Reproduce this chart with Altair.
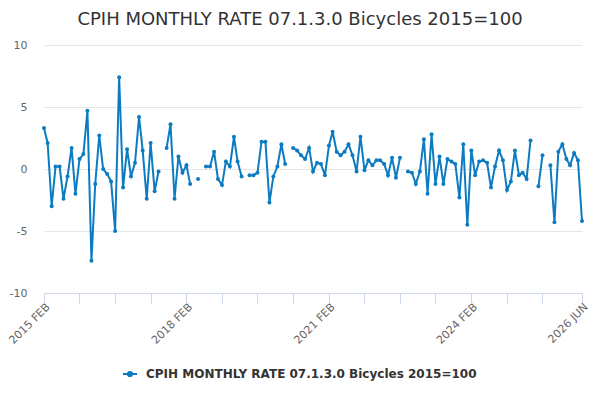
import altair as alt

FONT = "DejaVu Sans"
SERIES = "CPIH MONTHLY RATE 07.1.3.0 Bicycles 2015=100"

v2015 = [3.3, 2.1, -3.0, 0.2, 0.2, -2.4, -0.6, 1.7, -2.0, 0.8, 1.2]  # Feb-Dec
v2016 = [4.7, -7.4, -1.2, 2.7, 0.0, -0.4, -1.0, -5.0, 7.4, -1.5, 1.6, -0.6]
v2017 = [0.5, 4.2, 1.5, -2.4, 2.1, -1.8, -0.2, None, 1.7, 3.6, -2.4, 1.0]
v2018 = [-0.3, 0.3, -1.2, None, -0.8, None, 0.2, 0.2, 1.4, -0.8, -1.3, 0.6]
v2019 = [0.2, 2.6, 0.6, -0.6, None, -0.5, -0.5, -0.3, 2.2, 2.2, -2.7, -0.6]
v2020 = [0.2, 2.0, 0.4, None, 1.7, 1.5, 1.1, 0.8, 1.7, -0.2, 0.5, 0.4]
v2021 = [-0.5, 1.9, 3.0, 1.4, 1.1, 1.4, 2.0, 1.1, -0.2, 2.6, -0.1, 0.7]
v2022 = [0.3, 0.7, 0.7, 0.4, -0.5, 0.9, -0.7, 0.9, None, -0.2, -0.3, -1.2]
v2023 = [-0.2, 2.4, -2.0, 2.8, -1.2, 1.0, -1.2, 0.8, 0.6, 0.4, -2.3, 2.0]
v2024 = [-4.5, 1.5, -0.5, 0.6, 0.7, 0.5, -1.5, 0.2, 1.5, 0.7, -1.7, -1.0]
v2025 = [1.5, -0.5, -0.3, -0.8, 2.3, None, -1.4, 1.1, None, 0.3, -4.3, 1.4]
v2026 = [2.0, 0.8, 0.3, 1.3, 0.7, -4.2]  # Jan-Jun

years = {
    2015: v2015, 2016: v2016, 2017: v2017, 2018: v2018, 2019: v2019,
    2020: v2020, 2021: v2021, 2022: v2022, 2023: v2023, 2024: v2024,
    2025: v2025, 2026: v2026,
}

rows = []
for yr, vals in years.items():
    start_month = 2 if yr == 2015 else 1
    for k, v in enumerate(vals):
        m = start_month + k
        rows.append({"date": f"{yr}-{m:02d}-01", "value": v, "series": SERIES})

# tick positions every 9 months from 2015 FEB, plus the final month
tick_months = []
y, m = 2015, 2
for _ in range(15):
    tick_months.append((y, m))
    m += 9
    while m > 12:
        m -= 12
        y += 1
tick_months.append((2026, 6))
tick_values = [alt.DateTime(year=a, month=b, date=1, utc=True) for a, b in tick_months]
labelled = ["2015-02", "2018-02", "2021-02", "2024-02", "2026-06"]

data = alt.Data(values=rows)
BLUE = "#0c7bc1"

x_enc = alt.X(
    "date:T",
    scale=alt.Scale(
        type="utc",
        domain=[alt.DateTime(year=2015, month=2, date=1, utc=True),
                alt.DateTime(year=2026, month=6, date=1, utc=True)],
        nice=False,
    ),
    axis=alt.Axis(
        values=tick_values,
        title=None,
        grid=False,
        domainColor="#ccd6eb",
        tickColor="#ccd6eb",
        tickSize=10,
        labelAngle=-45,
        labelAlign="right",
        labelBaseline="middle",
        labelColor="#666666",
        labelFontSize=11,
        labelFont=FONT,
        labelPadding=2,
        labelOffset=4,
        labelOverlap=False,
        labelBound=False,
        labelFlush=False,
        labelExpr="indexof(" + str(labelled) + ", utcFormat(datum.value, '%Y-%m')) >= 0 ? upper(utcFormat(datum.value, '%Y %b')) : ''",
    ),
)

y_enc = alt.Y(
    "value:Q",
    scale=alt.Scale(domain=[-10, 10], nice=False, zero=False),
    axis=alt.Axis(
        values=[-10, -5, 0, 5, 10],
        title=None,
        domain=False,
        ticks=False,
        gridColor="#e6e6e6",
        gridWidth=1,
        labelColor="#666666",
        labelFontSize=11,
        labelFont=FONT,
        labelPadding=17,
        labelFlush=False,
        labelBound=False,
        labelOverlap=False,
        labelExpr="'' + datum.value",
    ),
)

color_enc = alt.Color(
    "series:N",
    scale=alt.Scale(range=[BLUE]),
    legend=alt.Legend(
        title=None,
        orient="none",
        legendX=78,
        legendY=321,
        symbolType="M-1,0L1,0M0.3,0A0.3,0.3,0,1,1,-0.3,0A0.3,0.3,0,1,1,0.3,0",
        symbolSize=196,
        symbolStrokeWidth=2,
        symbolStrokeColor=BLUE,
        symbolFillColor=BLUE,
        labelFont=FONT,
        labelFontSize=12,
        labelFontWeight="bold",
        labelColor="#333333",
        labelOffset=8,
        labelLimit=600,
    ),
)

line = alt.Chart(data).mark_line(
    strokeWidth=2,
    invalid="break-paths-show-domains",
).encode(x=x_enc, y=y_enc, color=color_enc)

points = alt.Chart(data).mark_point(
    filled=True, size=16, opacity=1,
).encode(x=x_enc, y=y_enc, color=alt.Color("series:N", scale=alt.Scale(range=[BLUE]), legend=None))

source = alt.Chart(data).mark_text(
    text="Source:", align="left", baseline="alphabetic",
    font=FONT, fontSize=12, color="#666666",
).encode(x=alt.value(497), y=alt.value(347)).transform_filter("datum.date == '2015-02-01'")

chart = alt.layer(line, points, source).properties(
    width=538,
    height=248,
    padding={"left": 36, "top": 37, "right": 10, "bottom": 99},
    autosize=alt.AutoSizeParams(type="none"),
    title=alt.TitleParams(
        text=SERIES,
        font=FONT,
        fontSize=18,
        fontWeight="normal",
        color="#333333",
        anchor="middle",
        frame="group",
        dx=-13,
        offset=10,
    ),
).configure_view(stroke=None)

chart.save("out.html", embed_options={"renderer": "svg", "actions": False})
